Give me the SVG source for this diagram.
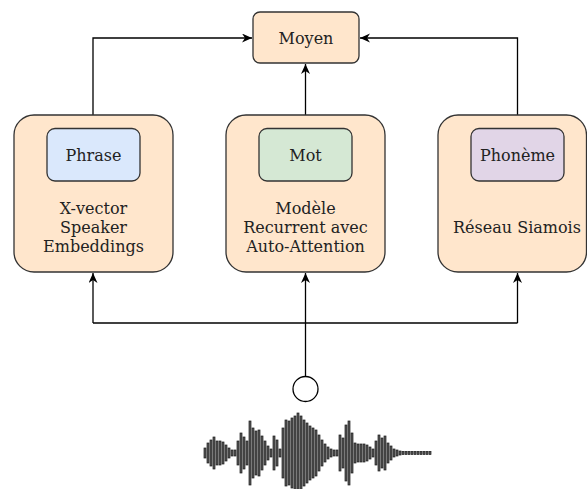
<svg xmlns="http://www.w3.org/2000/svg" width="587" height="489" viewBox="0 0 587 489">
<style>
.outer{fill:#FFE6CC;stroke:#333;stroke-width:1.3}
.inner{stroke:#333;stroke-width:1.3}
.t{font-family:"DejaVu Serif",serif;font-size:16px;fill:#222;text-anchor:middle}
.c{fill:none;stroke:#000;stroke-width:1.3}
.bar{fill:#5a5a5a;stroke:#1a1a1a;stroke-width:0.7}
</style>
<defs>
<marker id="arr" markerUnits="userSpaceOnUse" markerWidth="12" markerHeight="10" refX="10" refY="4.5" orient="auto">
<path d="M0,0 L10,4.5 L0,9 L3,4.5 z" fill="#000"/>
</marker>
</defs>
<rect width="587" height="489" fill="#fff"/>
<g id="connectors">
<path class="c" d="M93 115 V38 H252" marker-end="url(#arr)"/>
<path class="c" d="M305.5 115 V64" marker-end="url(#arr)"/>
<path class="c" d="M517.5 115 V38 H360" marker-end="url(#arr)"/>
<path class="c" d="M305.5 376.5 V273" marker-end="url(#arr)"/>
<path class="c" d="M93 323 H517.5"/>
<path class="c" d="M93 323 V273" marker-end="url(#arr)"/>
<path class="c" d="M517.5 323 V273" marker-end="url(#arr)"/>
</g>
<g id="moyen">
<rect class="outer" x="253" y="12" width="106" height="51" rx="7"/>
<text class="t" x="306" y="43.5">Moyen</text>
</g>
<g id="phrase-node">
<rect class="outer" x="14" y="115" width="159" height="157" rx="20"/>
<rect class="inner" x="47" y="128.5" width="93" height="52.5" rx="8" fill="#DAE8FC"/>
<text class="t" x="93.5" y="161">Phrase</text>
<text class="t" x="93.5" y="213.5">X-vector</text>
<text class="t" x="93.5" y="232.5">Speaker</text>
<text class="t" x="93.5" y="251.5">Embeddings</text>
</g>
<g id="mot-node">
<rect class="outer" x="226" y="115" width="159" height="157" rx="20"/>
<rect class="inner" x="259" y="128.5" width="93" height="52.5" rx="8" fill="#D5E8D4"/>
<text class="t" x="305.5" y="161">Mot</text>
<text class="t" x="305.5" y="213.5">Modèle</text>
<text class="t" x="305.5" y="232.5">Recurrent avec</text>
<text class="t" x="305.5" y="251.5">Auto-Attention</text>
</g>
<g id="phoneme-node">
<rect class="outer" x="438" y="115" width="148.5" height="157" rx="20"/>
<rect class="inner" x="471" y="128.5" width="93" height="52.5" rx="8" fill="#E1D5E7"/>
<text class="t" x="517.5" y="161">Phonème</text>
<text class="t" x="517" y="232.5">Réseau Siamois</text>
</g>
<g id="input">
<circle cx="305.5" cy="389" r="12.5" fill="#fff" stroke="#000" stroke-width="1.3"/>
</g>
<g id="waveform">
<rect class="bar" x="204" y="448" width="2" height="10"/>
<rect class="bar" x="207" y="443" width="2" height="20"/>
<rect class="bar" x="210" y="440" width="2" height="26"/>
<rect class="bar" x="213" y="437" width="2" height="32"/>
<rect class="bar" x="216" y="441" width="2" height="24"/>
<rect class="bar" x="219" y="441" width="2" height="24"/>
<rect class="bar" x="222" y="442" width="2" height="22"/>
<rect class="bar" x="225" y="445" width="2" height="16"/>
<rect class="bar" x="228" y="448" width="2" height="10"/>
<rect class="bar" x="231" y="450" width="2" height="6"/>
<rect class="bar" x="234" y="450" width="2" height="6"/>
<rect class="bar" x="237" y="441" width="2" height="24"/>
<rect class="bar" x="240" y="433" width="2" height="40"/>
<rect class="bar" x="243" y="437" width="2" height="32"/>
<rect class="bar" x="246" y="441" width="2" height="24"/>
<rect class="bar" x="249" y="421" width="2" height="64"/>
<rect class="bar" x="252" y="428" width="2" height="50"/>
<rect class="bar" x="255" y="431" width="2" height="44"/>
<rect class="bar" x="258" y="430" width="2" height="46"/>
<rect class="bar" x="261" y="436" width="2" height="34"/>
<rect class="bar" x="264" y="441" width="2" height="24"/>
<rect class="bar" x="267" y="446" width="2" height="14"/>
<rect class="bar" x="270" y="449" width="2" height="8"/>
<rect class="bar" x="273" y="436" width="2" height="34"/>
<rect class="bar" x="276" y="440" width="2" height="26"/>
<rect class="bar" x="279" y="449" width="2" height="8"/>
<rect class="bar" x="282" y="428" width="2" height="50"/>
<rect class="bar" x="285" y="420" width="2" height="66"/>
<rect class="bar" x="288" y="421" width="2" height="64"/>
<rect class="bar" x="291" y="418" width="2" height="70"/>
<rect class="bar" x="294" y="416" width="2" height="74"/>
<rect class="bar" x="297" y="413" width="2" height="80"/>
<rect class="bar" x="300" y="416" width="2" height="74"/>
<rect class="bar" x="303" y="420" width="2" height="66"/>
<rect class="bar" x="306" y="423" width="2" height="60"/>
<rect class="bar" x="309" y="426" width="2" height="54"/>
<rect class="bar" x="312" y="428" width="2" height="50"/>
<rect class="bar" x="315" y="430" width="2" height="46"/>
<rect class="bar" x="318" y="435" width="2" height="36"/>
<rect class="bar" x="321" y="440" width="2" height="26"/>
<rect class="bar" x="324" y="444" width="2" height="18"/>
<rect class="bar" x="327" y="447" width="2" height="12"/>
<rect class="bar" x="330" y="449" width="2" height="8"/>
<rect class="bar" x="333" y="450" width="2" height="6"/>
<rect class="bar" x="336" y="450" width="2" height="6"/>
<rect class="bar" x="339" y="435" width="2" height="36"/>
<rect class="bar" x="342" y="438" width="2" height="30"/>
<rect class="bar" x="345" y="425" width="2" height="56"/>
<rect class="bar" x="348" y="421" width="2" height="64"/>
<rect class="bar" x="351" y="433" width="2" height="40"/>
<rect class="bar" x="354" y="443" width="2" height="20"/>
<rect class="bar" x="357" y="444" width="2" height="18"/>
<rect class="bar" x="360" y="444" width="2" height="18"/>
<rect class="bar" x="363" y="444" width="2" height="18"/>
<rect class="bar" x="366" y="445" width="2" height="16"/>
<rect class="bar" x="369" y="447" width="2" height="12"/>
<rect class="bar" x="372" y="449" width="2" height="8"/>
<rect class="bar" x="375" y="441" width="2" height="24"/>
<rect class="bar" x="378" y="435" width="2" height="36"/>
<rect class="bar" x="381" y="438" width="2" height="30"/>
<rect class="bar" x="384" y="436" width="2" height="34"/>
<rect class="bar" x="387" y="443" width="2" height="20"/>
<rect class="bar" x="390" y="446" width="2" height="14"/>
<rect class="bar" x="393" y="449" width="2" height="8"/>
<rect class="bar" x="396" y="450" width="2" height="6"/>
<rect class="bar" x="399" y="451" width="2" height="4"/>
<rect class="bar" x="402" y="451.5" width="2" height="3"/>
<rect class="bar" x="405" y="451.5" width="2" height="3"/>
<rect class="bar" x="408" y="451.5" width="2" height="3"/>
<rect class="bar" x="411" y="451.5" width="2" height="3"/>
<rect class="bar" x="414" y="451.5" width="2" height="3"/>
<rect class="bar" x="417" y="451.5" width="2" height="3"/>
<rect class="bar" x="420" y="451.5" width="2" height="3"/>
<rect class="bar" x="423" y="451.5" width="2" height="3"/>
<rect class="bar" x="426" y="451.5" width="2" height="3"/>
<rect class="bar" x="429" y="451.5" width="2" height="3"/>
</g>
</svg>
